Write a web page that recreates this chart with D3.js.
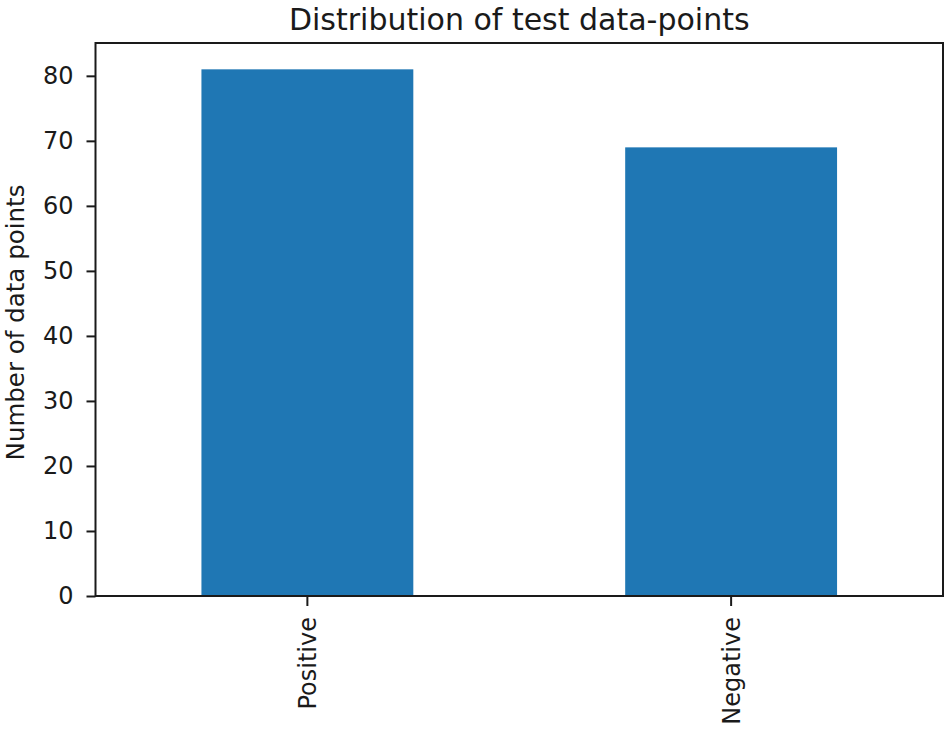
<!DOCTYPE html>
<html>
<head>
<meta charset="utf-8">
<script src="https://cdn.jsdelivr.net/npm/d3@7"></script>
<style>
  html, body { margin: 0; padding: 0; background: #fff; }
  svg { display: block; }
  text { font-family: "DejaVu Sans", sans-serif; fill: #1a1a1a; }
</style>
</head>
<body>
<svg id="chart" width="950" height="737"></svg>
<script>
const categories = ["Positive", "Negative"];
const counts = [81, 69];
const yTicks = [0, 10, 20, 30, 40, 50, 60, 70, 80];
const titleText = "Distribution of test data-points";
const yLabelText = "Number of data points";

const W = 950, H = 737;
const margin = { left: 95.5, right: 7, top: 43, bottom: 141 };
const pw = W - margin.left - margin.right;
const ph = H - margin.top - margin.bottom;

const svg = d3.select("#chart");
const g = svg.append("g").attr("transform", `translate(${margin.left},${margin.top})`);

const x = d3.scaleBand().domain(categories).range([0, pw]).paddingInner(0.5).paddingOuter(0.25);
const y = d3.scaleLinear().domain([0, d3.max(counts) * 1.05]).range([ph, 0]);

g.selectAll("rect.bar")
  .data(categories.map((c, i) => ({ c, v: counts[i] })))
  .enter().append("rect")
  .attr("class", "bar")
  .attr("x", d => x(d.c))
  .attr("width", x.bandwidth())
  .attr("y", d => y(d.v))
  .attr("height", d => y(0) - y(d.v))
  .attr("fill", "#1f77b4");

// Y axis
const yAxis = g.append("g")
  .call(d3.axisLeft(y).tickValues(yTicks).tickSize(9).tickPadding(13).tickFormat(d3.format("d")));
yAxis.select(".domain").remove();
yAxis.selectAll(".tick line").attr("stroke", "#1a1a1a").attr("stroke-width", 2);
yAxis.selectAll(".tick text").attr("font-size", 24).attr("font-family", "DejaVu Sans").attr("fill", "#1a1a1a");

// X axis
const xAxis = g.append("g").attr("transform", `translate(0,${ph})`)
  .call(d3.axisBottom(x).tickSize(10).tickPadding(0));
xAxis.select(".domain").remove();
xAxis.selectAll(".tick line").attr("stroke", "#1a1a1a").attr("stroke-width", 2);
xAxis.selectAll(".tick text")
  .attr("font-size", 24).attr("font-family", "DejaVu Sans").attr("fill", "#1a1a1a")
  .attr("text-anchor", "end")
  .attr("transform", "rotate(-90)")
  .attr("x", -21)
  .attr("y", 0)
  .attr("dy", "0.35em");

// Frame (spines)
g.append("rect")
  .attr("x", 0).attr("y", 0).attr("width", pw).attr("height", ph)
  .attr("fill", "none").attr("stroke", "#1a1a1a").attr("stroke-width", 2);

// Title
svg.append("text")
  .attr("x", margin.left + pw / 2)
  .attr("y", 30)
  .attr("text-anchor", "middle")
  .attr("font-size", 30)
  .text(titleText);

// Y label
svg.append("text")
  .attr("transform", `translate(24,${margin.top + ph / 2 + 3}) rotate(-90)`)
  .attr("text-anchor", "middle")
  .attr("font-size", 24.5)
  .text(yLabelText);
</script>
</body>
</html>
